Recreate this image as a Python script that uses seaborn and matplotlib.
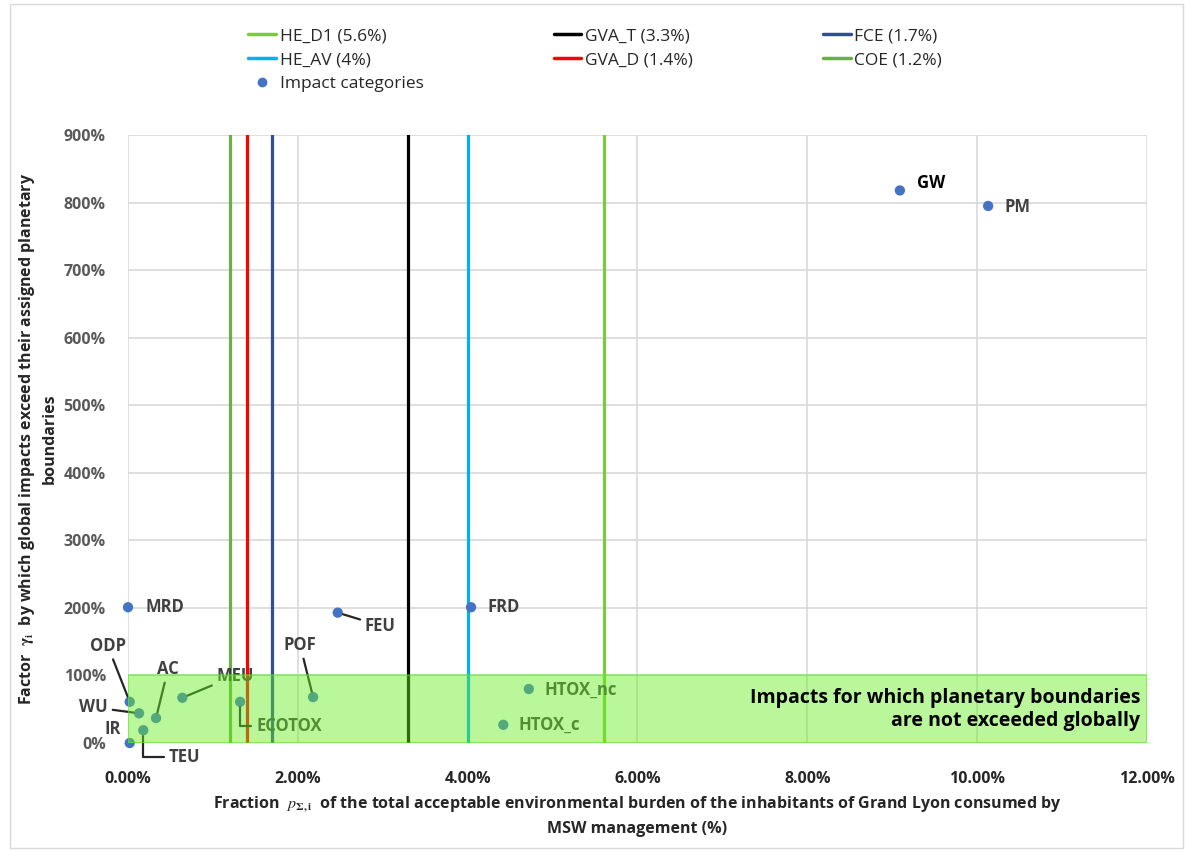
import pandas as pd
import numpy as np
import matplotlib.pyplot as plt
import seaborn as sns
from matplotlib.lines import Line2D

# dados das categorias de impacto (x: fração %, y: fator %)
categorias = ["MRD", "FEU", "FRD", "GW", "PM", "HTOX_nc", "HTOX_c", "ODP",
              "WU", "IR", "AC", "TEU", "MEU", "ECOTOX", "POF"]
fracao = [0.00, 2.47, 4.04, 9.09, 10.13, 4.72, 4.42, 0.02,
          0.13, 0.02, 0.33, 0.18, 0.64, 1.32, 2.18]
fator = [201, 193, 201, 818, 795, 80, 27, 61,
         44, 0, 37, 19, 67, 61, 68]

# limites (linhas verticais)
limites_nomes = ["HE_D1 (5.6%)", "HE_AV (4%)", "GVA_T (3.3%)", "GVA_D (1.4%)", "FCE (1.7%)", "COE (1.2%)"]
limites_valores = [5.6, 4.0, 3.3, 1.4, 1.7, 1.2]
limites_cores = ["#7DCB3C", "#00B0F0", "#000000", "#FF0000", "#2F4F8F", "#6BB043"]

df = pd.DataFrame({"Categoria": categorias, "Fracao": fracao, "Fator": fator})

# posição dos rótulos (deslocamento em pixels), alinhamento, linha guia
rotulos = {
    "MRD": (17, 0, "left", False),
    "FEU": (27, -13, "left", True),
    "FRD": (16, 0, "left", False),
    "GW": (17, 7, "left", False),
    "PM": (16, -1, "left", False),
    "HTOX_nc": (16, -1, "left", False),
    "HTOX_c": (15, 0, "left", False),
    "ODP": (-22, 56, "center", True),
    "WU": (-31, 6, "right", True),
    "IR": (-17, 14, "center", False),
    "AC": (12, 49, "center", True),
    "TEU": (25, -27, "left", "angle"),
    "MEU": (34, 22, "left", True),
    "ECOTOX": (16, -24, "left", "angle"),
    "POF": (-13, 52, "center", True),
}

sns.set_style("white")
plt.rcParams['font.family'] = ['Open Sans', 'DejaVu Sans']
plt.rcParams['mathtext.fontset'] = 'stix'

fig = plt.figure(figsize=(11.93, 8.52), dpi=100)
ax = fig.add_axes([0.1073, 0.1279, 0.8541, 0.7136])

ax.set_xlim(0, 12)
ax.set_ylim(0, 900)
ax.set_xticks(np.arange(0, 12.1, 2))
ax.set_yticks(np.arange(0, 901, 100))
ax.set_xticklabels([f"{v:.2f}%" for v in np.arange(0, 12.1, 2)],
                   fontsize=11.5, fontweight="bold", color="#262626")
ax.set_yticklabels([f"{v}%" for v in range(0, 901, 100)],
                   fontsize=11.5, fontweight="bold", color="#595959")
ax.grid(True, color="#D9D9D9", linewidth=1.2)
ax.set_axisbelow(True)
for s in ax.spines.values():
    s.set_visible(False)
ax.tick_params(axis="x", length=0, pad=20)
ax.tick_params(axis="y", length=0, pad=16)

for v, c in zip(limites_valores, limites_cores):
    ax.axvline(v, color=c, linewidth=2.3, zorder=2)

sns.scatterplot(data=df, x="Fracao", y="Fator", color="#4472C4", s=55,
                edgecolor="none", ax=ax, zorder=3, clip_on=False)

for cat, x, y in zip(categorias, fracao, fator):
    dx, dy, ha, guia = rotulos[cat]
    props = None
    if guia is True:
        props = dict(arrowstyle="-", color="#262626", lw=1.6, shrinkA=1, shrinkB=4)
    elif guia == "angle":
        props = dict(arrowstyle="-", color="#262626", lw=1.6, shrinkA=1, shrinkB=4,
                     connectionstyle="angle,angleA=0,angleB=90,rad=0")
    cor = "#000000" if cat == "GW" else "#404040"
    ax.annotate(cat, (x, y), xytext=(dx, dy), textcoords="offset pixels",
                ha=ha, va="center", fontsize=12, fontweight="bold", color=cor,
                arrowprops=props, annotation_clip=False, zorder=4)

# faixa verde: fronteiras não excedidas
ax.axhspan(0, 100, xmin=0, xmax=1, facecolor="#66EE22", alpha=0.45,
           edgecolor="#55EE22", linewidth=1.5, zorder=5)
ax.text(11.92, 50, "Impacts for which planetary boundaries\nare not exceeded globally",
        ha="right", va="center", fontsize=14, fontweight="bold", color="#000000",
        linespacing=1.2, zorder=6)

ax.set_xlabel("Fraction  $\\mathbf{\\mathit{p}_{\\Sigma,i}}$  of the total acceptable environmental burden of the inhabitants of Grand Lyon consumed by\nMSW management (%)",
              fontsize=11.5, fontweight="bold", color="#262626", labelpad=6, linespacing=1.5)
ax.set_ylabel("Factor  $\\mathbf{\\gamma_i}$  by which global impacts exceed their assigned planetary\nboundaries",
              fontsize=11.5, fontweight="bold", color="#262626", labelpad=4, linespacing=1.4)

# legenda
h = [Line2D([], [], color=limites_cores[0], lw=2.5),
     Line2D([], [], color=limites_cores[1], lw=2.5),
     Line2D([], [], marker="o", color="#4472C4", lw=0, markersize=6),
     Line2D([], [], color=limites_cores[2], lw=2.5),
     Line2D([], [], color=limites_cores[3], lw=2.5),
     Line2D([], [], color=limites_cores[4], lw=2.5),
     Line2D([], [], color=limites_cores[5], lw=2.5)]
nomes = [limites_nomes[0], limites_nomes[1], "Impact categories",
         limites_nomes[2], limites_nomes[3], limites_nomes[4], limites_nomes[5]]
fig.legend(h, nomes, loc="upper left", bbox_to_anchor=(0.195, 0.985), ncol=3,
           frameon=False, handlelength=1.6, handletextpad=0.2,
           columnspacing=7.5, labelspacing=0.45,
           prop={"weight": "normal", "size": 12.5})

fig.patches.append(plt.Rectangle((0.008, 0.005), 0.984, 0.99, transform=fig.transFigure,
                                 fill=False, edgecolor="#D9D9D9", linewidth=1))

plt.savefig("out.png", dpi=100)
